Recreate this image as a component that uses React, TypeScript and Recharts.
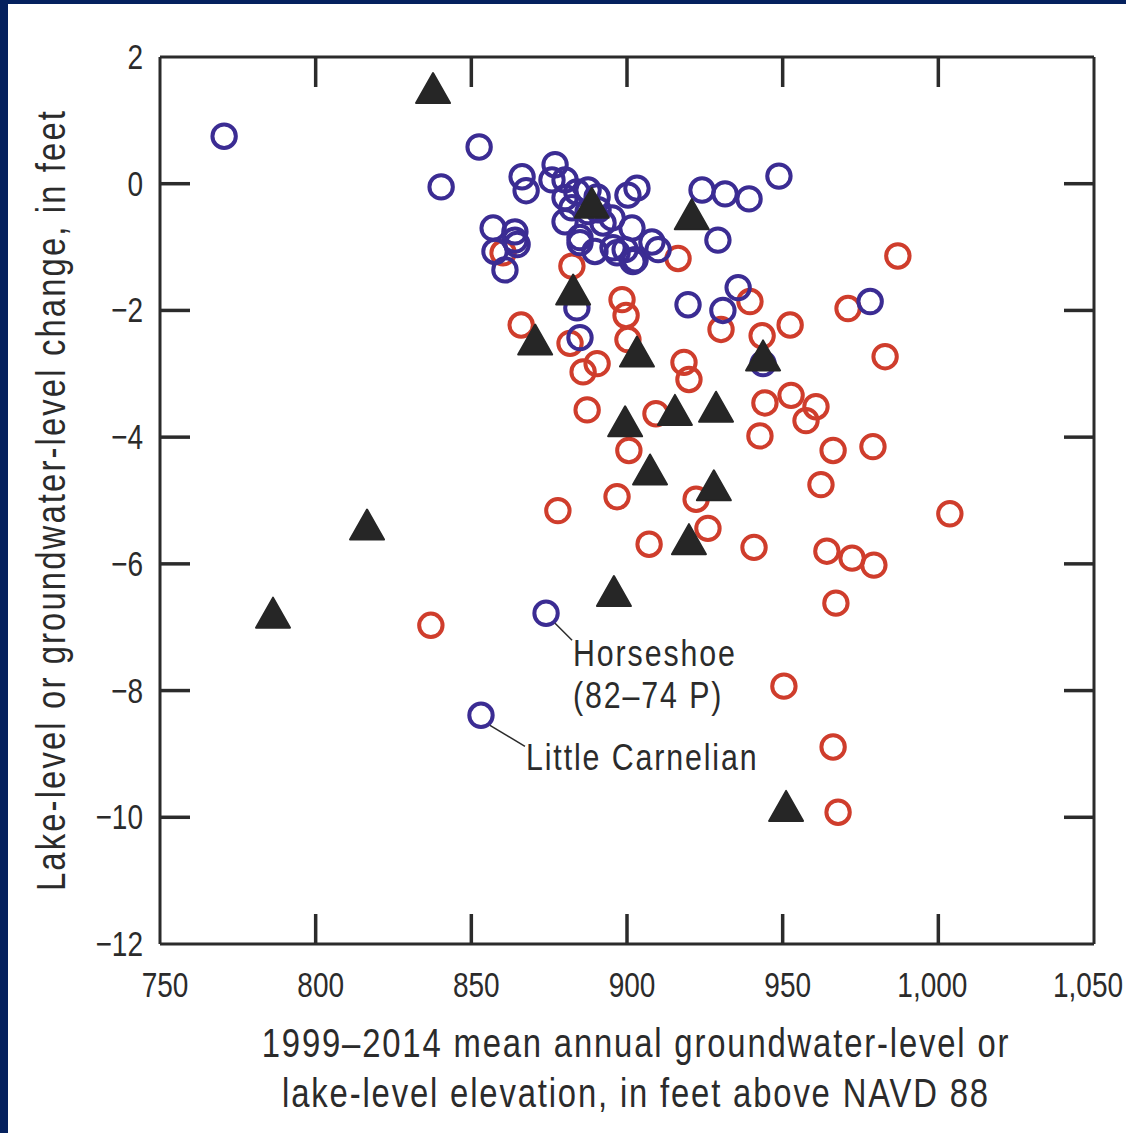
import React from "react";
import { ScatterChart, Scatter, XAxis, YAxis } from "recharts";

const xTicks = [750, 800, 850, 900, 950, 1000, 1050];
const yTicks = [2, 0, -2, -4, -6, -8, -10, -12];
const xDomain: [number, number] = [750, 1050];
const yDomain: [number, number] = [-12, 2];

// Lakes (blue open circles)
const lakeSites: [number, number][] = [
  [770.6, 0.75], [840.3, -0.05], [852.5, 0.58], [866.3, 0.11], [867.6, -0.11],
  [876.9, 0.3], [875.9, 0.06], [880.1, 0.06], [880.1, -0.22], [883.9, -0.13],
  [890.4, -0.21], [900.3, -0.18], [903.2, -0.07], [924.1, -0.1], [931.5, -0.16],
  [939.2, -0.24], [948.8, 0.12], [880.1, -0.6], [892.3, -0.62], [901.6, -0.7],
  [884.9, -0.85], [889.7, -1.07], [895.5, -1.01], [899.4, -1.04], [902.6, -1.2],
  [908.0, -0.92], [910.0, -1.04], [929.2, -0.89], [857.0, -0.7], [864.0, -0.76],
  [864.0, -0.89], [857.6, -1.07], [860.8, -1.36], [883.9, -1.96], [919.6, -1.91],
  [930.8, -2.0], [935.7, -1.64], [978.1, -1.86], [884.9, -2.43], [943.7, -2.84],
  [864.7, -0.96], [884.9, -0.93], [896.8, -1.09], [901.9, -1.23], [887.5, -0.44],
  [895.2, -0.54], [882.3, -0.38], [890.7, -0.41], [887.5, -0.1],
  [874.0, -6.78], [853.1, -8.39],
];
const lakeCallouts: { x: number; y: number; lines: string[] }[] = [
  { x: 874.0, y: -6.78, lines: ["Horseshoe", "(82–74 P)"] },
  { x: 853.1, y: -8.39, lines: ["Little Carnelian"] },
];

// Groundwater wells (red open circles)
const wellSites: [number, number][] = [
  [860.2, -1.09], [882.3, -1.3], [916.4, -1.18], [898.4, -1.83], [899.7, -2.08],
  [900.3, -2.46], [866.0, -2.23], [881.7, -2.52], [885.9, -2.97], [890.4, -2.84],
  [887.2, -3.57], [918.3, -2.82], [919.9, -3.09], [909.3, -3.63], [930.2, -2.3],
  [939.5, -1.86], [943.4, -2.4], [952.4, -2.23], [944.3, -3.46], [952.7, -3.34],
  [942.7, -3.98], [987.0, -1.14], [971.0, -1.97], [982.9, -2.73], [960.7, -3.52],
  [957.5, -3.74], [900.6, -4.21], [966.2, -4.21], [979.0, -4.15], [962.3, -4.75],
  [896.8, -4.94], [922.2, -4.98], [877.8, -5.16], [1003.7, -5.21], [926.0, -5.44],
  [907.1, -5.69], [940.8, -5.74], [964.2, -5.8], [972.3, -5.91], [979.3, -6.02],
  [967.1, -6.62], [837.0, -6.97], [950.4, -7.93], [966.2, -8.89], [967.8, -9.92],
];

// Other sites (black triangles)
const otherSites: [number, number][] = [
  [837.7, 1.51], [888.7, -0.3], [920.8, -0.48], [882.7, -1.67], [870.5, -2.46],
  [903.2, -2.65], [943.7, -2.71], [899.4, -3.75], [915.4, -3.57], [928.6, -3.52],
  [907.4, -4.51], [927.9, -4.76], [919.9, -5.61], [816.5, -5.38], [895.8, -6.43],
  [786.3, -6.77], [951.1, -9.82],
];

const xTitleLines = [
  "1999–2014 mean annual groundwater-level or",
  "lake-level elevation, in feet above NAVD 88",
];
const yTitle = "Lake-level or groundwater-level change, in feet";

const FONT = "'Liberation Sans', Arial, sans-serif";
const INK = "#2b2b2b";
const BLUE = "#3b2c93";
const RED = "#cf3d2c";
const TRI = "#262626";
const NAVY = "#05215e";
const TICK_LEN = 30;
const NARROW = 0.8;

const toPoints = (arr: [number, number][]) => arr.map(([x, y]) => ({ x, y }));
const lakeData = toPoints(lakeSites).map((p) => {
  const c = lakeCallouts.find((k) => k.x === p.x && k.y === p.y);
  return c ? { ...p, lines: c.lines } : p;
});
const wellData = toPoints(wellSites);
const otherData = toPoints(otherSites);

const fmtX = (v: number) => (v >= 1000 ? v.toLocaleString("en-US") : String(v));
const fmtY = (v: number) => (v < 0 ? "\u2212" + Math.abs(v) : String(v));

const NText = (p: {
  x: number; y: number; anchor?: "start" | "middle" | "end"; size: number; ls?: number; sx?: number; children: React.ReactNode;
}) => (
  <text
    transform={`translate(${p.x},${p.y}) scale(${p.sx ?? NARROW},1)`}
    textAnchor={p.anchor ?? "start"}
    fontFamily={FONT}
    fontSize={p.size}
    letterSpacing={p.ls ?? 0}
    fill={INK}
  >
    {p.children}
  </text>
);

const BottomTick = (props: any) => {
  const { x, y, payload } = props;
  const v = payload.value;
  const inner = v > xDomain[0] && v < xDomain[1];
  return (
    <g>
      {inner && <line x1={x} y1={y} x2={x} y2={y - TICK_LEN} stroke={INK} strokeWidth={3.5} />}
      <NText x={x + (v >= 1000 ? -6 : 5)} y={y + 53} anchor="middle" size={35}>
        {fmtX(v)}
      </NText>
    </g>
  );
};
const TopTick = (props: any) => {
  const { x, y, payload } = props;
  const v = payload.value;
  const inner = v > xDomain[0] && v < xDomain[1];
  return inner ? <line x1={x} y1={y} x2={x} y2={y + TICK_LEN} stroke={INK} strokeWidth={3.5} /> : <g />;
};
const LeftTick = (props: any) => {
  const { x, y, payload } = props;
  const v = payload.value;
  const inner = v > yDomain[0] && v < yDomain[1];
  return (
    <g>
      {inner && <line x1={x} y1={y} x2={x + TICK_LEN} y2={y} stroke={INK} strokeWidth={3.5} />}
      <NText x={x - 17} y={y + 12} anchor="end" size={35}>
        {fmtY(v)}
      </NText>
    </g>
  );
};
const RightTick = (props: any) => {
  const { x, y, payload } = props;
  const v = payload.value;
  const inner = v > yDomain[0] && v < yDomain[1];
  return inner ? <line x1={x} y1={y} x2={x - TICK_LEN} y2={y} stroke={INK} strokeWidth={3.5} /> : <g />;
};

const LakeShape = (props: any) => {
  const { cx, cy, payload } = props;
  const lines: string[] | undefined = payload?.lines;
  const isHorseshoe = lines && lines.length === 2;
  return (
    <g>
      <circle cx={cx} cy={cy} r={11.7} fill="none" stroke={BLUE} strokeWidth={4} />
      {lines &&
        (isHorseshoe ? (
          <g>
            <line x1={cx + 9} y1={cy + 10} x2={cx + 26} y2={cy + 27} stroke={INK} strokeWidth={1.5} />
            <NText x={cx + 27} y={cy + 53} size={37} ls={2.3} sx={0.82}>{lines[0]}</NText>
            <NText x={cx + 27} y={cy + 95} size={37} ls={2.3} sx={0.82}>{lines[1]}</NText>
          </g>
        ) : (
          <g>
            <line x1={cx + 9} y1={cy + 10} x2={cx + 44} y2={cy + 31} stroke={INK} strokeWidth={1.5} />
            <NText x={cx + 45} y={cy + 55} size={37} ls={2.3} sx={0.82}>{lines[0]}</NText>
          </g>
        ))}
    </g>
  );
};
const WellShape = (props: any) => (
  <circle cx={props.cx} cy={props.cy} r={11.7} fill="none" stroke={RED} strokeWidth={4} />
);
const TriShape = (props: any) => {
  const { cx, cy } = props;
  const w = 17, h = 15;
  return (
    <polygon
      points={`${cx},${cy - h} ${cx + w},${cy + h} ${cx - w},${cy + h}`}
      fill={TRI}
      stroke={TRI}
      strokeWidth={2}
      strokeLinejoin="round"
    />
  );
};

export default function App() {
  return (
    <div style={{ position: "relative", width: 1126, height: 1133, background: "#fff", overflow: "hidden" }}>
      <style>{"body{margin:0;}"}</style>
      <ScatterChart
        width={1126}
        height={1133}
        margin={{ top: 37, right: 20, bottom: 129, left: 60 }}
      >
        <XAxis
          xAxisId="b"
          dataKey="x"
          type="number"
          orientation="bottom"
          domain={xDomain}
          ticks={xTicks}
          allowDataOverflow
          height={60}
          tickSize={0}
          tickMargin={0}
          tickLine={false}
          axisLine={{ stroke: INK, strokeWidth: 3 }}
          tick={<BottomTick />}
          interval={0}
        />
        <XAxis
          xAxisId="t"
          dataKey="x"
          type="number"
          orientation="top"
          domain={xDomain}
          ticks={xTicks}
          allowDataOverflow
          height={20}
          tickSize={0}
          tickMargin={0}
          tickLine={false}
          axisLine={{ stroke: INK, strokeWidth: 3 }}
          tick={<TopTick />}
          interval={0}
        />
        <YAxis
          yAxisId="l"
          dataKey="y"
          type="number"
          orientation="left"
          domain={yDomain}
          ticks={yTicks}
          allowDataOverflow
          width={100}
          tickSize={0}
          tickMargin={0}
          tickLine={false}
          axisLine={{ stroke: INK, strokeWidth: 3 }}
          tick={<LeftTick />}
          interval={0}
        />
        <YAxis
          yAxisId="r"
          dataKey="y"
          type="number"
          orientation="right"
          domain={yDomain}
          ticks={yTicks}
          allowDataOverflow
          width={12}
          tickSize={0}
          tickMargin={0}
          tickLine={false}
          axisLine={{ stroke: INK, strokeWidth: 3 }}
          tick={<RightTick />}
          interval={0}
        />
        <Scatter xAxisId="b" yAxisId="l" data={wellData} shape={<WellShape />} isAnimationActive={false} />
        <Scatter xAxisId="b" yAxisId="l" data={lakeData} shape={<LakeShape />} isAnimationActive={false} />
        <Scatter xAxisId="b" yAxisId="l" data={otherData} shape={<TriShape />} isAnimationActive={false} />
      </ScatterChart>
      <div
        style={{
          position: "absolute", left: 136, top: 1018, width: 1000, textAlign: "center",
          fontFamily: FONT, fontSize: 40, lineHeight: "50px", color: INK, letterSpacing: 2.25,
          whiteSpace: "nowrap",
        }}
      >
        {xTitleLines.map((t) => (
          <div key={t} style={{ transform: `scaleX(0.82)` }}>{t}</div>
        ))}
      </div>
      <div style={{ position: "absolute", left: 51, top: 500, width: 0, height: 0 }}>
        <div
          style={{
            position: "absolute", left: -500, top: -25, width: 1000, height: 50, textAlign: "center",
            transform: "rotate(-90deg) scaleX(0.82)", transformOrigin: "500px 25px",
            fontFamily: FONT, fontSize: 40, lineHeight: "50px", color: INK, letterSpacing: 2.6,
            whiteSpace: "nowrap",
          }}
        >
          {yTitle}
        </div>
      </div>
      <div style={{ position: "absolute", left: 0, top: 0, width: 8, height: 1133, background: NAVY }} />
      <div style={{ position: "absolute", left: 0, top: 0, width: 1126, height: 4, background: NAVY }} />
    </div>
  );
}
